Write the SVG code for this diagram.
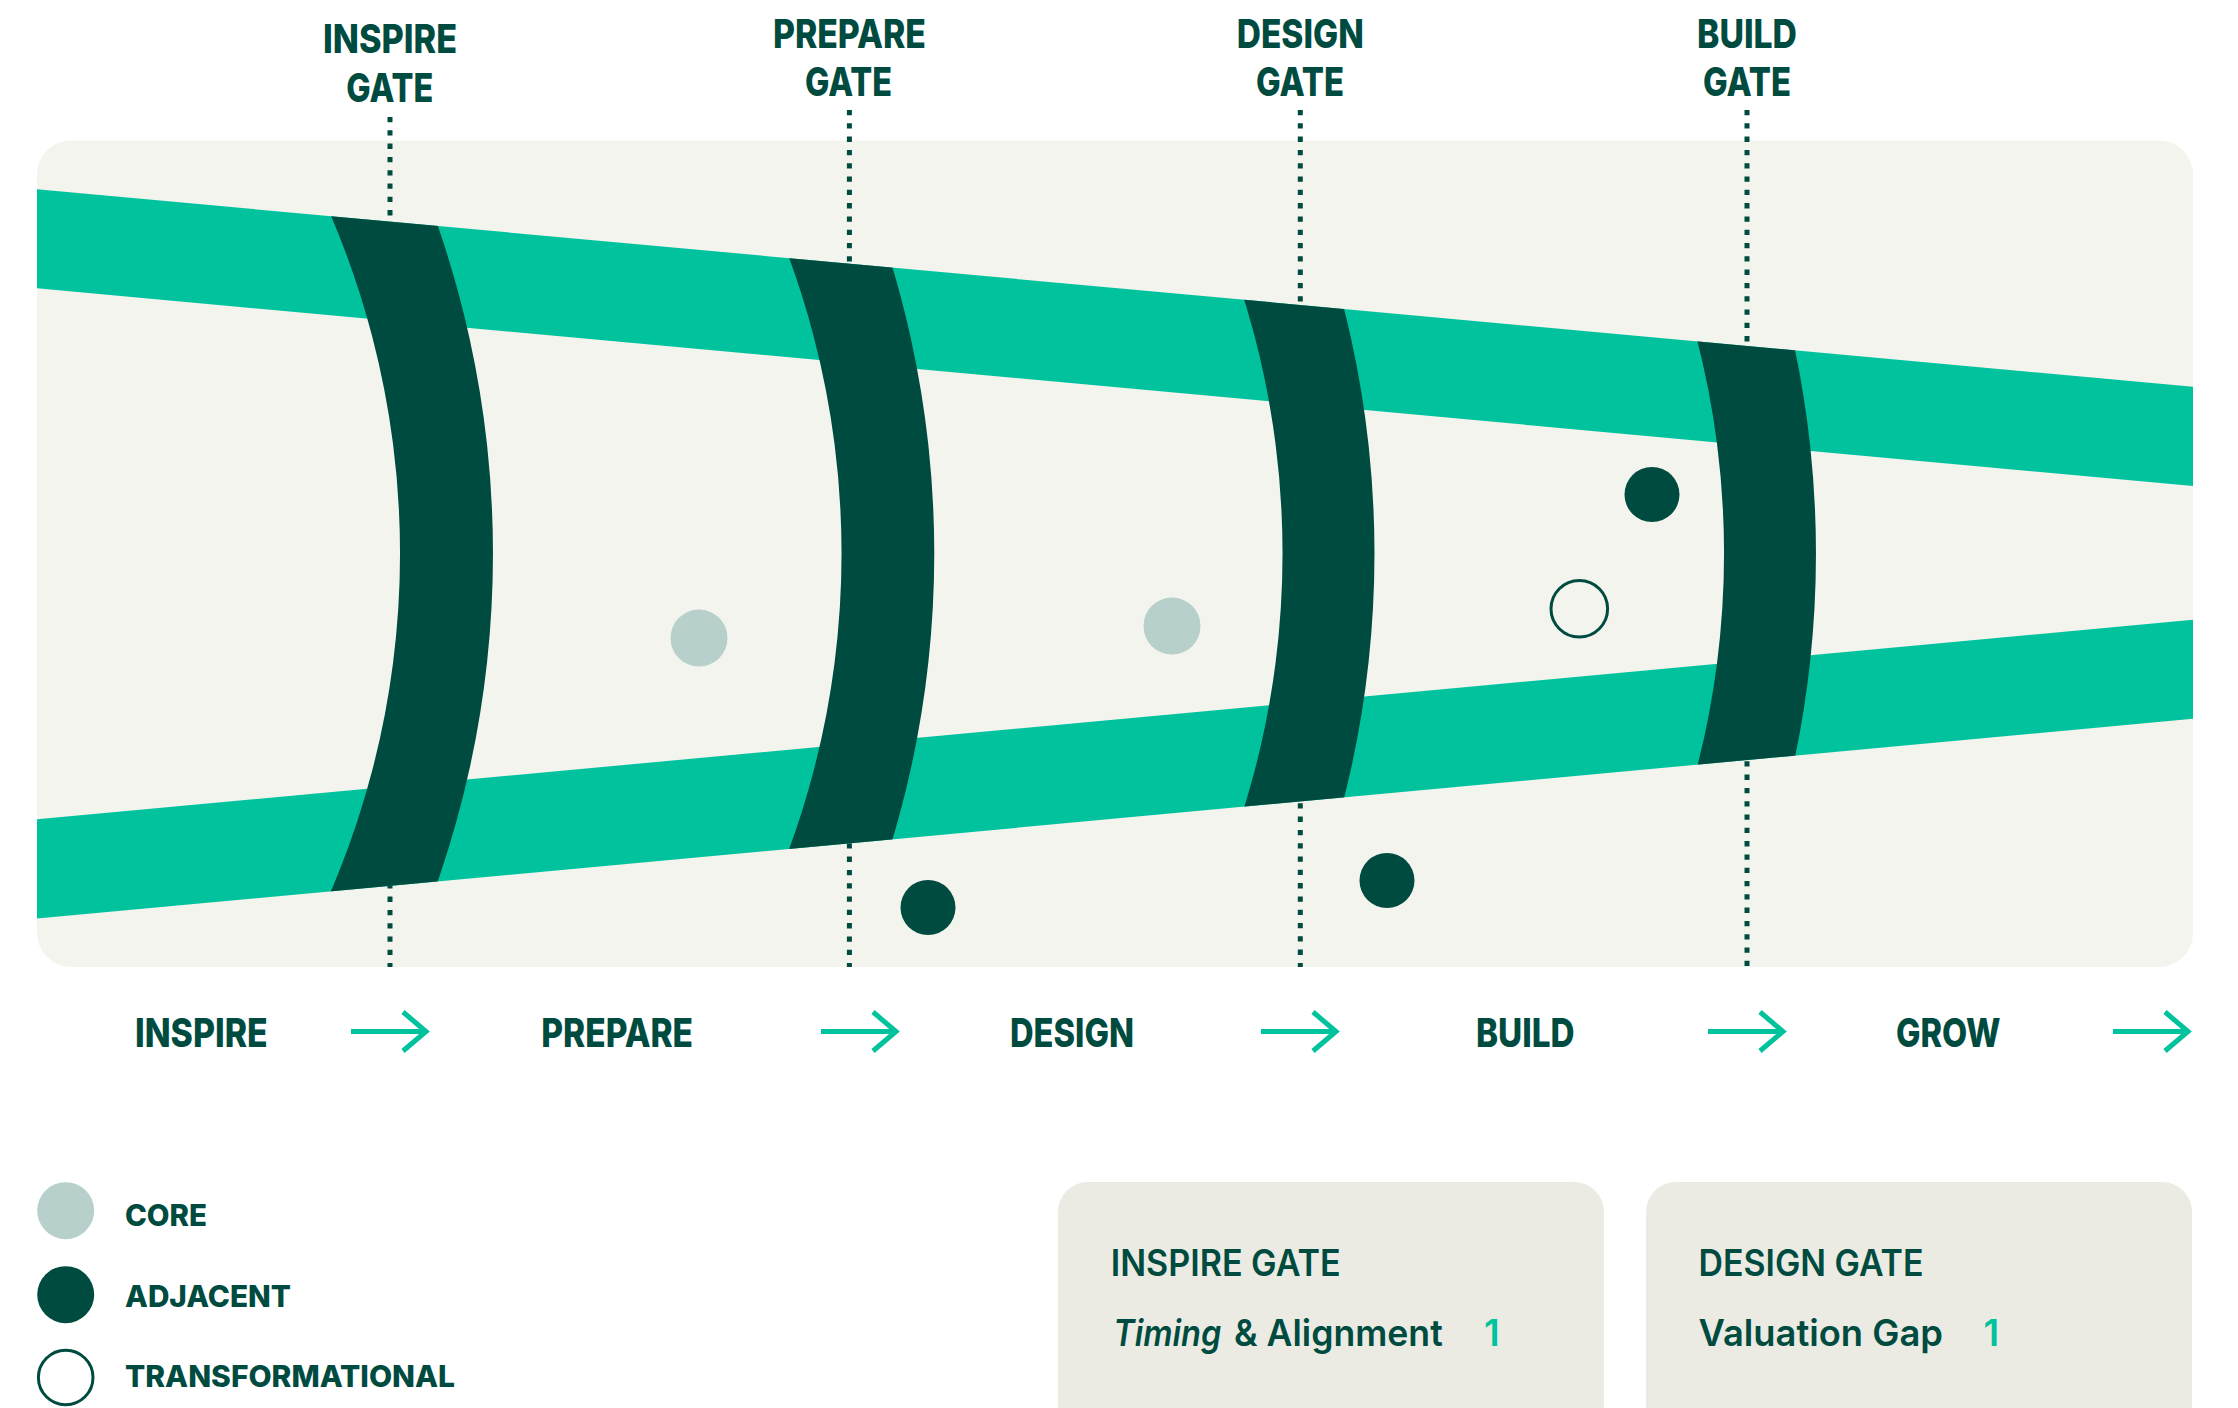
<svg xmlns="http://www.w3.org/2000/svg" width="2238" height="1408" viewBox="0 0 2238 1408">
  <style>
    .lbl { font-family: Inter, "Liberation Sans", Arial, sans-serif; font-weight: 800; fill: #004B3F; }
    .gate-lbl { font-size: 40px; text-anchor: middle; }
    .phase { font-size: 40px; }
    .legend { font-size: 30px; }
    .card-t { font-family: Inter, "Liberation Sans", Arial, sans-serif; font-weight: 600; font-size: 37px; fill: #004B3F; }
    .num { font-family: Inter, "Liberation Sans", Arial, sans-serif; font-weight: 600; font-size: 37px; fill: #00C39D; }
    .band { fill: #00C39D; }
    .gate { fill: #004B3F; }
    .dash { stroke: #004B3F; stroke-width: 5; stroke-dasharray: 5.3 8; fill: none; }
    .arrow { stroke: #00C39D; stroke-width: 5; fill: none; stroke-linejoin: miter; }
    .core { fill: #B7D0CC; }
    .adjacent { fill: #004B3F; }
    .transformational { fill: none; stroke: #004B3F; stroke-width: 3; }
    .card { fill: #EBEBE3; }
  </style>
  <defs>
    <!-- outer outline of the funnel: top edge of the upper band to bottom edge of the lower band -->
    <clipPath id="funnel">
      <polygon points="37,189.3 2193,386.7 2193,718.7 37,918.6"/>
    </clipPath>
    <g id="arrowShape">
      <line x1="0" y1="0" x2="75" y2="0"/>
      <polyline points="52,-19.5 75,0 52,19.5"/>
    </g>
  </defs>

  <rect width="2238" height="1408" fill="#FFFFFF"/>

  <!-- panel -->
  <rect id="panel" x="37" y="140.5" width="2156" height="826.5" rx="34" ry="34" fill="#F4F4EF"/>

  <!-- gate markers (dotted leaders) -->
  <g id="connectors">
    <line class="dash" x1="390" y1="117" x2="390" y2="240"/>
    <line class="dash" x1="390" y1="870" x2="390" y2="967"/>
    <line class="dash" x1="849.4" y1="110" x2="849.4" y2="280"/>
    <line class="dash" x1="849.4" y1="830" x2="849.4" y2="967"/>
    <line class="dash" x1="1300.3" y1="110" x2="1300.3" y2="320"/>
    <line class="dash" x1="1300.3" y1="790" x2="1300.3" y2="967"/>
    <line class="dash" x1="1747" y1="110" x2="1747" y2="360"/>
    <line class="dash" x1="1747" y1="748" x2="1747" y2="967"/>
  </g>

  <!-- funnel bands -->
  <g id="bands">
    <polygon class="band" points="37,189.3 2193,386.7 2193,486 37,288.3"/>
    <polygon class="band" points="37,819.3 2193,619.8 2193,718.7 37,918.6"/>
  </g>

  <!-- gates -->
  <g clip-path="url(#funnel)">
    <g id="gate-inspire">
      <path class="gate" d="M290.5,133.5 A860,860 0 0 1 290.5,973.5 L400.5,973.5 A1000,1000 0 0 0 400.5,133.5 Z"/>
    </g>
    <g id="gate-prepare">
      <path class="gate" d="M732,133.5 A860,860 0 0 1 732,973.5 L841.8,973.5 A1000,1000 0 0 0 841.8,133.5 Z"/>
    </g>
    <g id="gate-design">
      <path class="gate" d="M1173,133.5 A860,860 0 0 1 1173,973.5 L1282,973.5 A1000,1000 0 0 0 1282,133.5 Z"/>
    </g>
    <g id="gate-build">
      <path class="gate" d="M1614.5,133.5 A860,860 0 0 1 1614.5,973.5 L1723.5,973.5 A1000,1000 0 0 0 1723.5,133.5 Z"/>
    </g>
  </g>

  <!-- gate labels -->
  <g id="label-inspire-gate" class="lbl gate-lbl">
    <text x="390" y="53.3" textLength="134" lengthAdjust="spacingAndGlyphs">INSPIRE</text>
    <text x="389.7" y="101.7" textLength="87" lengthAdjust="spacingAndGlyphs">GATE</text>
  </g>
  <g id="label-prepare-gate" class="lbl gate-lbl">
    <text x="849.4" y="47.7" textLength="153" lengthAdjust="spacingAndGlyphs">PREPARE</text>
    <text x="848.6" y="95.7" textLength="87" lengthAdjust="spacingAndGlyphs">GATE</text>
  </g>
  <g id="label-design-gate" class="lbl gate-lbl">
    <text x="1300.3" y="47.7" textLength="127" lengthAdjust="spacingAndGlyphs">DESIGN</text>
    <text x="1300" y="95.7" textLength="88" lengthAdjust="spacingAndGlyphs">GATE</text>
  </g>
  <g id="label-build-gate" class="lbl gate-lbl">
    <text x="1747" y="47.7" textLength="100" lengthAdjust="spacingAndGlyphs">BUILD</text>
    <text x="1747" y="95.7" textLength="88" lengthAdjust="spacingAndGlyphs">GATE</text>
  </g>

  <!-- initiatives -->
  <g id="initiatives">
    <circle class="core" cx="699" cy="638" r="28.5"/>
    <circle class="core" cx="1172" cy="626" r="28.5"/>
    <circle class="adjacent" cx="928" cy="907.5" r="27.5"/>
    <circle class="adjacent" cx="1387" cy="880.5" r="27.5"/>
    <circle class="adjacent" cx="1652" cy="494.5" r="27.5"/>
    <circle class="transformational" cx="1579.3" cy="608.8" r="28.3"/>
  </g>

  <!-- phase row -->
  <g id="phases" class="lbl phase">
    <text x="135" y="1047" textLength="132.7" lengthAdjust="spacingAndGlyphs">INSPIRE</text>
    <text x="541.3" y="1047" textLength="151.7" lengthAdjust="spacingAndGlyphs">PREPARE</text>
    <text x="1010" y="1047" textLength="124" lengthAdjust="spacingAndGlyphs">DESIGN</text>
    <text x="1476" y="1047" textLength="98.6" lengthAdjust="spacingAndGlyphs">BUILD</text>
    <text x="1896" y="1047" textLength="104.6" lengthAdjust="spacingAndGlyphs">GROW</text>
  </g>
  <g id="phase-arrows" class="arrow">
    <use href="#arrowShape" transform="translate(351,1031.5)"/>
    <use href="#arrowShape" transform="translate(821,1031.5)"/>
    <use href="#arrowShape" transform="translate(1261,1031.5)"/>
    <use href="#arrowShape" transform="translate(1708,1031.5)"/>
    <use href="#arrowShape" transform="translate(2113,1031.5)"/>
  </g>

  <!-- legend -->
  <g id="legend">
    <circle class="core" cx="65.7" cy="1210.7" r="28.5"/>
    <text class="lbl legend" x="125" y="1226" textLength="82" lengthAdjust="spacingAndGlyphs">CORE</text>
    <circle class="adjacent" cx="65.7" cy="1294.7" r="28.5"/>
    <text class="lbl legend" x="125" y="1307.3" textLength="166" lengthAdjust="spacingAndGlyphs">ADJACENT</text>
    <circle class="transformational" cx="65.7" cy="1377.5" r="27.3"/>
    <text class="lbl legend" x="125" y="1387.3" textLength="330" lengthAdjust="spacingAndGlyphs">TRANSFORMATIONAL</text>
  </g>

  <!-- gate notes -->
  <g id="card-inspire-gate">
    <rect class="card" x="1058" y="1182" width="546" height="270" rx="30" ry="30"/>
    <text class="card-t" x="1110.7" y="1275.7" textLength="230" lengthAdjust="spacingAndGlyphs">INSPIRE GATE</text>
    <text class="card-t" x="1113.3" y="1345.7" font-style="italic" textLength="108" lengthAdjust="spacingAndGlyphs">Timing</text>
    <text class="card-t" x="1234" y="1345.7" textLength="208.7" lengthAdjust="spacingAndGlyphs">&amp; Alignment</text>
    <text class="num" x="1484" y="1345.7">1</text>
  </g>
  <g id="card-design-gate">
    <rect class="card" x="1646" y="1182" width="546" height="270" rx="30" ry="30"/>
    <text class="card-t" x="1698.5" y="1275.7" textLength="225" lengthAdjust="spacingAndGlyphs">DESIGN GATE</text>
    <text class="card-t" x="1698.5" y="1345.7" textLength="244.5" lengthAdjust="spacingAndGlyphs">Valuation Gap</text>
    <text class="num" x="1983.5" y="1345.7">1</text>
  </g>
</svg>
